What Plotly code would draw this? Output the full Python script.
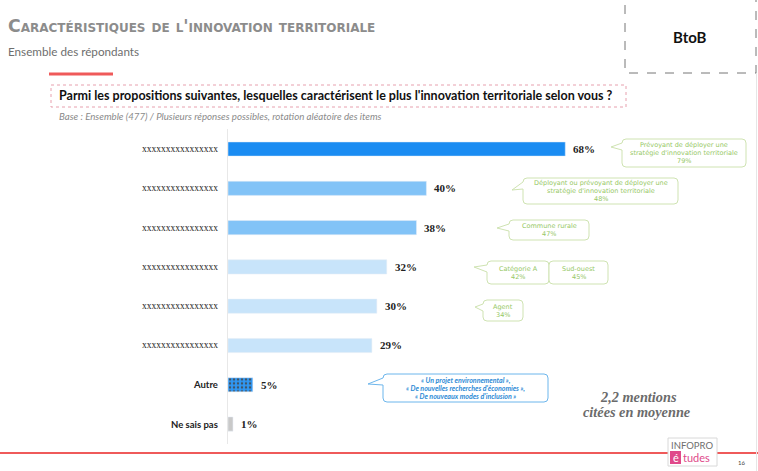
import plotly.graph_objects as go

W, H = 758, 471

# ---- data ----
categories = ["xxxxxxxxxxxxxxxx", "xxxxxxxxxxxxxxxx ", "xxxxxxxxxxxxxxxx  ",
              "xxxxxxxxxxxxxxxx   ", "xxxxxxxxxxxxxxxx    ", "xxxxxxxxxxxxxxxx     ",
              "Autre", "Ne sais pas"]
values = [68, 40, 38, 32, 30, 29, 5, 1]
value_labels = ["68%", "40%", "38%", "32%", "30%", "29%", "5%", "1%"]
bar_colors = ["#1A8CF2", "#82C3F7", "#82C3F7", "#C8E4FA", "#C8E4FA", "#C8E4FA", "#2F97F4", "#C9C9C9"]
patterns = ["", "", "", "", "", "", ".", ""]

callouts_green = [
    # (box x0, y0, x1, y1, tip x, tip y, text lines)
    (622, 139, 746, 167, 611, 147, ["Prévoyant de déployer une", "stratégie d'innovation territoriale", "79%"]),
    (523, 178, 678, 204, 512, 190, ["Déployant ou prévoyant de déployer une", "stratégie d'innovation territoriale", "48%"]),
    (509, 220, 589, 240, 497, 228, ["Commune rurale", "47%"]),
    (487, 261, 549, 284, 474, 267, ["Catégorie A", "42%"]),
    (549, 261, 608, 284, None, None, ["Sud-ouest", "45%"]),
    (483, 300, 523, 321, 475, 307, ["Agent", "34%"]),
]
callout_blue = (383, 374, 548, 402, 368, 384,
                ["« Un projet environnemental »,", "« De nouvelles recherches d'économies »,",
                 "« De nouveaux modes d'inclusion »"])


def px(x):
    return x / W


def py(y):
    return 1 - y / H


# plot area in pixels
X0_PX = 228
PX_PER_PCT = 4.96
ROW_TOP, ROW_BOT = 129.4, 443.7

fig = go.Figure()
fig.add_trace(go.Bar(
    y=categories, x=values, orientation="h",
    marker=dict(color=bar_colors,
                pattern=dict(shape=patterns, fillmode="overlay", fgcolor="#9FD0FA",
                             fgopacity=0.8, size=4, solidity=0.3)),
    width=0.36, hoverinfo="skip",
))

annotations = []
for c, v, lab in zip(categories, values, value_labels):
    annotations.append(dict(x=v, y=c, xref="x", yref="y", text=lab, showarrow=False,
                            xanchor="left", yanchor="middle", xshift=6,
                            font=dict(family="Liberation Serif", size=11, color="#222222", weight="bold")))
    is_x = c.startswith("x")
    annotations.append(dict(x=px(220), y=c, xref="paper", yref="y", text=c.strip(), showarrow=False,
                            xanchor="right", yanchor="middle",
                            font=dict(family="Liberation Serif" if is_x else "Lato",
                                      size=9.5, color="#222222",
                                      weight="normal" if is_x else "bold")))

shapes = []


def bubble(x0, y0, x1, y1, tx, ty, color, r=4):
    path = f"M {px(x0 + r)},{py(y0)} L {px(x1 - r)},{py(y0)} Q {px(x1)},{py(y0)} {px(x1)},{py(y0 + r)} "
    path += f"L {px(x1)},{py(y1 - r)} Q {px(x1)},{py(y1)} {px(x1 - r)},{py(y1)} "
    path += f"L {px(x0 + r)},{py(y1)} Q {px(x0)},{py(y1)} {px(x0)},{py(y1 - r)} "
    if tx is not None:
        path += f"L {px(x0)},{py(y0 + 11)} L {px(tx)},{py(ty)} L {px(x0)},{py(y0 + 4)} "
    path += f"L {px(x0)},{py(y0 + r)} Q {px(x0)},{py(y0)} {px(x0 + r)},{py(y0)} Z"
    return dict(type="path", path=path, xref="paper", yref="paper",
                line=dict(color=color, width=1), fillcolor="white", layer="above")


def line_texts(x0, y0, x1, y1, lines, spacing, font):
    cx, cy = (x0 + x1) / 2, (y0 + y1) / 2
    n = len(lines)
    out = []
    for i, t in enumerate(lines):
        yy = cy + (i - (n - 1) / 2) * spacing
        out.append(dict(x=px(cx), y=py(yy), xref="paper", yref="paper", text=t, showarrow=False,
                        xanchor="center", yanchor="middle", font=font))
    return out


green_font = dict(family="DejaVu Sans", size=6.5, color="#96C865")
for (x0, y0, x1, y1, tx, ty, lines) in callouts_green:
    shapes.append(bubble(x0, y0, x1, y1, tx, ty, "#CFE3B2"))
    annotations += line_texts(x0, y0, x1, y1, lines, 8, green_font)

bx0, by0, bx1, by1, btx, bty, blines = callout_blue
shapes.append(bubble(bx0, by0, bx1, by1, btx, bty, "#6DB6EC"))
annotations += line_texts(bx0, by0, bx1, by1, [f"<i>{t}</i>" for t in blines], 8,
                          dict(family="Lato", size=7, color="#2E8BD6", weight="bold"))

# header elements
annotations += [
    dict(x=px(6), y=py(26), xref="paper", yref="paper", xanchor="left", yanchor="middle",
         text="Caractéristiques de l'innovation territoriale", showarrow=False,
         font=dict(family="DejaVu Sans", size=17.3, color="#8C8C8C", weight="bold", variant="small-caps")),
    dict(x=px(6), y=py(51), xref="paper", yref="paper", xanchor="left", yanchor="middle",
         text="Ensemble des répondants", showarrow=False,
         font=dict(family="Lato", size=11.7, color="#6E6E6E")),
    dict(x=px(57), y=py(96), xref="paper", yref="paper", xanchor="left", yanchor="middle",
         text="<b>Parmi les propositions suivantes, lesquelles caractérisent le plus l'innovation territoriale selon vous ?</b>",
         showarrow=False, font=dict(family="Lato", size=12.5, color="#111111")),
    dict(x=px(57), y=py(116), xref="paper", yref="paper", xanchor="left", yanchor="middle",
         text="<i>Base : Ensemble (477) / Plusieurs réponses possibles, rotation aléatoire des items</i>",
         showarrow=False, font=dict(family="Lato", size=9.7, color="#8A8A8A")),
    dict(x=px(690), y=py(37), xref="paper", yref="paper", xanchor="center", yanchor="middle",
         text="<b>BtoB</b>", showarrow=False, font=dict(family="Lato", size=15, color="#111111")),
    dict(x=px(638), y=py(397), xref="paper", yref="paper", xanchor="center", yanchor="middle",
         text="<b><i>2,2 mentions</i></b>", showarrow=False,
         font=dict(family="Liberation Serif", size=14.3, color="#6B6B6B")),
    dict(x=px(637), y=py(412), xref="paper", yref="paper", xanchor="center", yanchor="middle",
         text="<b><i>citées en moyenne</i></b>", showarrow=False,
         font=dict(family="Liberation Serif", size=14.3, color="#6B6B6B")),
    dict(x=px(692), y=py(445), xref="paper", yref="paper", xanchor="center", yanchor="middle",
         text="INFOPRO", showarrow=False, font=dict(family="Lato", size=9.5, color="#6E6E6E")),
    dict(x=px(675.5), y=py(457.5), xref="paper", yref="paper", xanchor="center", yanchor="middle",
         text="é", showarrow=False, font=dict(family="Lato", size=11, color="white")),
    dict(x=px(681), y=py(457.5), xref="paper", yref="paper", xanchor="left", yanchor="middle",
         text="tudes", showarrow=False, font=dict(family="Lato", size=11, color="#E0498A")),
    dict(x=px(741), y=py(462), xref="paper", yref="paper", xanchor="center", yanchor="middle",
         text="16", showarrow=False, font=dict(family="Lato", size=6, color="#444444")),
]

shapes += [
    dict(type="line", xref="paper", yref="paper", x0=px(49), x1=px(113), y0=py(74), y1=py(74),
         line=dict(color="#EF5A5A", width=3)),
    dict(type="rect", xref="paper", yref="paper", x0=px(51), x1=px(626), y0=py(85), y1=py(107),
         line=dict(color="#E7A0AE", width=1, dash="dot")),
    dict(type="rect", xref="paper", yref="paper", x0=px(625), x1=px(756), y0=py(-2), y1=py(73),
         line=dict(color="#777777", width=1, dash="dash")),
    dict(type="line", xref="paper", yref="paper", x0=px(0), x1=px(758), y0=py(453), y1=py(453),
         line=dict(color="#EF5A5A", width=2)),
    dict(type="rect", xref="paper", yref="paper", x0=px(668), x1=px(717), y0=py(438), y1=py(466),
         line=dict(color="#D8D8D8", width=1), fillcolor="white"),
    dict(type="rect", xref="paper", yref="paper", x0=px(670), x1=px(681), y0=py(451), y1=py(464),
         line=dict(width=0), fillcolor="#E0498A"),
    dict(type="line", xref="paper", yref="paper", x0=px(756.5), x1=px(756.5), y0=py(73), y1=py(471),
         line=dict(color="#E6E6E6", width=1)),
]

x_max = (W - X0_PX) / PX_PER_PCT
fig.update_layout(
    width=W, height=H, margin=dict(l=0, r=0, t=0, b=0),
    paper_bgcolor="white", plot_bgcolor="white", showlegend=False,
    xaxis=dict(domain=[px(X0_PX), 1], range=[0, x_max], visible=False, fixedrange=True),
    yaxis=dict(domain=[py(ROW_BOT), py(ROW_TOP)], autorange="reversed", showticklabels=False,
               showline=True, linecolor="#E8E8E8", linewidth=1, showgrid=False, ticks="",
               fixedrange=True),
    annotations=annotations, shapes=shapes,
)

fig.write_html("out.html", config={"displayModeBar": False},
               post_script="document.body.style.margin='0';document.body.style.padding='0';")
